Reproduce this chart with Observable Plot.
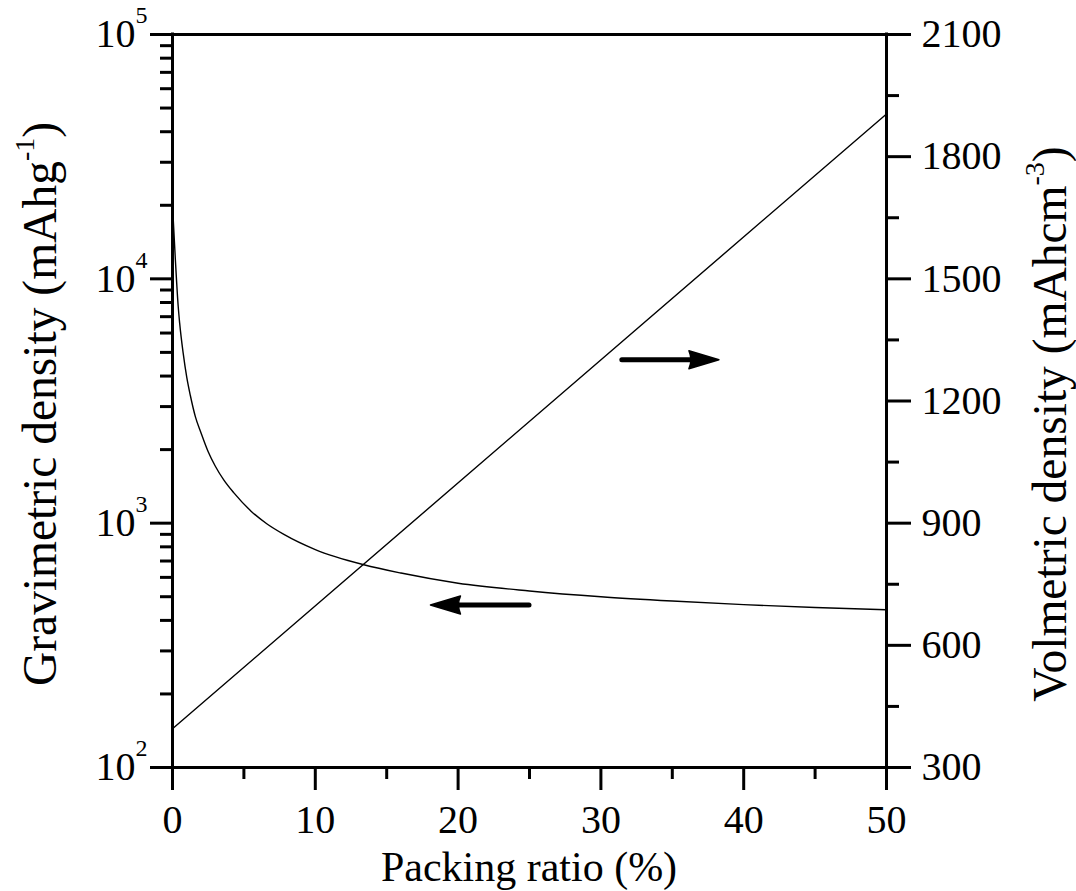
<!DOCTYPE html>
<html>
<head>
<meta charset="utf-8">
<script src="https://cdn.jsdelivr.net/npm/d3@7"></script>
<script src="https://cdn.jsdelivr.net/npm/@observablehq/plot@0.6"></script>
<style>
  body { margin: 0; background: #fff; }
  #chart { position: relative; width: 1076px; height: 891px; }
  #chart svg { position: absolute; left: 0; top: 0; overflow: visible; }
</style>
</head>
<body>
<div id="chart"></div>
<script>
// Gravimetric density vs packing ratio (left, log axis)
const packingRatio = [0, 0.2, 0.4, 0.5, 0.75, 1, 1.25, 1.6, 2, 2.5, 3, 3.6, 4.3, 5.5, 6.6, 7.8, 10, 13.4, 16, 20, 25, 30, 35, 40, 45, 50];
const gravimetric  = [20000, 12000, 7700, 6600, 4950, 3950, 3330, 2730, 2340, 1960, 1710, 1500, 1330, 1120, 995, 900, 780, 676, 625, 568, 528, 500, 480, 464, 452, 442];

// Volumetric density vs packing ratio (right, linear axis)
const volPacking = [0, 50];
const volumetric = [395, 1905];

// Axis ticks
const xMajorTicks = [0, 10, 20, 30, 40, 50];
const xMinorTicks = [5, 15, 25, 35, 45];
const gravMajorTicks = [1e2, 1e3, 1e4, 1e5];
const gravMinorTicks = [2, 3, 4].flatMap(k => [2, 3, 4, 5, 6, 7, 8, 9].map(m => m * 10 ** k));
const volMajorTicks = [300, 600, 900, 1200, 1500, 1800, 2100];
const volMinorTicks = [450, 750, 1050, 1350, 1650, 1950];

// Direction arrows: which axis each curve belongs to
const gravArrow = [{x1: 25, x2: 18.1, y: 460}];
const volArrow  = [{x1: 31.5, x2: 38.3, y: 1300}];

const W = 1076, H = 891;
const margins = {marginTop: 34, marginRight: 190, marginBottom: 124, marginLeft: 172};
const FONT = "'Liberation Serif', 'Times New Roman', serif";
const AXIS_W = 3;

const gravData = packingRatio.map((p, i) => ({p, g: gravimetric[i]}));
const volData = volPacking.map((p, i) => ({p, v: volumetric[i]}));

// Thick arrow with a filled head, placed through the plot's scales
function arrowMark(data) {
  return (index, scales) => {
    const g = d3.create("svg:g");
    for (const d of data) {
      const x1 = scales.x(d.x1), x2 = scales.x(d.x2), y = scales.y(d.y);
      const dir = Math.sign(x2 - x1);
      const headLen = 30, headHalf = 9;
      const base = x2 - dir * headLen;
      g.append("line")
        .attr("x1", x1).attr("x2", base + dir * 2).attr("y1", y).attr("y2", y)
        .attr("stroke", "#000").attr("stroke-width", 5).attr("stroke-linecap", "round");
      g.append("path")
        .attr("d", `M${x2},${y}L${base},${y - headHalf}Q${base + dir * 4},${y} ${base},${y + headHalf}Z`)
        .attr("fill", "#000").attr("stroke", "#000").attr("stroke-width", 1.5)
        .attr("stroke-linejoin", "round");
    }
    return g.node();
  };
}

const common = {
  width: W, height: H, ...margins,
  style: {fontFamily: FONT, fontSize: "40px", color: "#000", background: "transparent", overflow: "visible"}
};

const gravPlot = Plot.plot({
  ...common,
  x: {domain: [0, 50]},
  y: {type: "log", domain: [100, 1e5]},
  marks: [
    Plot.axisX(xMinorTicks, {tickSize: 12, strokeWidth: AXIS_W, tickFormat: () => "", label: null}),
    Plot.axisX(xMajorTicks, {tickSize: 23, tickPadding: 14, strokeWidth: AXIS_W, label: null}),
    Plot.axisY(gravMinorTicks, {tickSize: 12, strokeWidth: AXIS_W, tickFormat: () => "", label: null}),
    Plot.axisY(gravMajorTicks, {tickSize: 22, tickPadding: 3, strokeWidth: AXIS_W, label: null,
      tickFormat: d => `10^${Math.round(Math.log10(d))}`}),
    Plot.ruleX([0], {strokeWidth: AXIS_W, strokeLinecap: "square"}),
    Plot.ruleY([100], {strokeWidth: AXIS_W, strokeLinecap: "square"}),
    Plot.ruleY([1e5], {strokeWidth: AXIS_W, strokeLinecap: "square"}),
    Plot.line(gravData, {x: "p", y: "g", curve: "monotone-x", stroke: "#000", strokeWidth: 1.4}),
    arrowMark(gravArrow)
  ]
});

const volPlot = Plot.plot({
  ...common,
  x: {domain: [0, 50], axis: null},
  y: {domain: [300, 2100]},
  marks: [
    Plot.axisY(volMinorTicks, {anchor: "right", tickSize: 12, strokeWidth: AXIS_W, tickFormat: () => "", label: null}),
    Plot.axisY(volMajorTicks, {anchor: "right", tickSize: 24, tickPadding: 11, strokeWidth: AXIS_W, label: null, tickFormat: d => `${d}`}),
    Plot.ruleX([50], {strokeWidth: AXIS_W, strokeLinecap: "square"}),
    Plot.line(volData, {x: "p", y: "v", stroke: "#000", strokeWidth: 1.4}),
    arrowMark(volArrow)
  ]
});

// Power-of-ten tick labels with superscript exponents
d3.select(gravPlot).selectAll("text").each(function () {
  const m = /^10\^(\d+)$/.exec(this.textContent);
  if (!m) return;
  const t = d3.select(this);
  t.text("10");
  t.append("tspan").attr("dy", "-24px").attr("font-size", "24px").text(m[1]);
});

// Axis titles
const svgG = d3.select(gravPlot);
svgG.append("text")
  .attr("x", (172 + (W - 190)) / 2).attr("y", 881)
  .attr("text-anchor", "middle").attr("font-size", 42).attr("font-family", FONT).attr("fill", "#000")
  .text("Packing ratio (%)");

function rotatedLabel(svg, x, y, main, unit, sup) {
  const t = svg.append("text")
    .attr("transform", `translate(${x},${y}) rotate(-90)`)
    .attr("text-anchor", "middle").attr("font-size", 47.5).attr("font-family", FONT).attr("fill", "#000");
  t.append("tspan").text(`${main} (${unit}`);
  t.append("tspan").attr("dy", "-22px").attr("font-size", "28px").text(sup);
  t.append("tspan").attr("dy", "22px").text(")");
}
rotatedLabel(svgG, 56, 404, "Gravimetric density", "mAhg", "-1");
rotatedLabel(d3.select(volPlot), 1066, 424, "Volmetric density", "mAhcm", "-3");

const root = document.getElementById("chart");
root.appendChild(gravPlot);
root.appendChild(volPlot);
</script>
</body>
</html>
